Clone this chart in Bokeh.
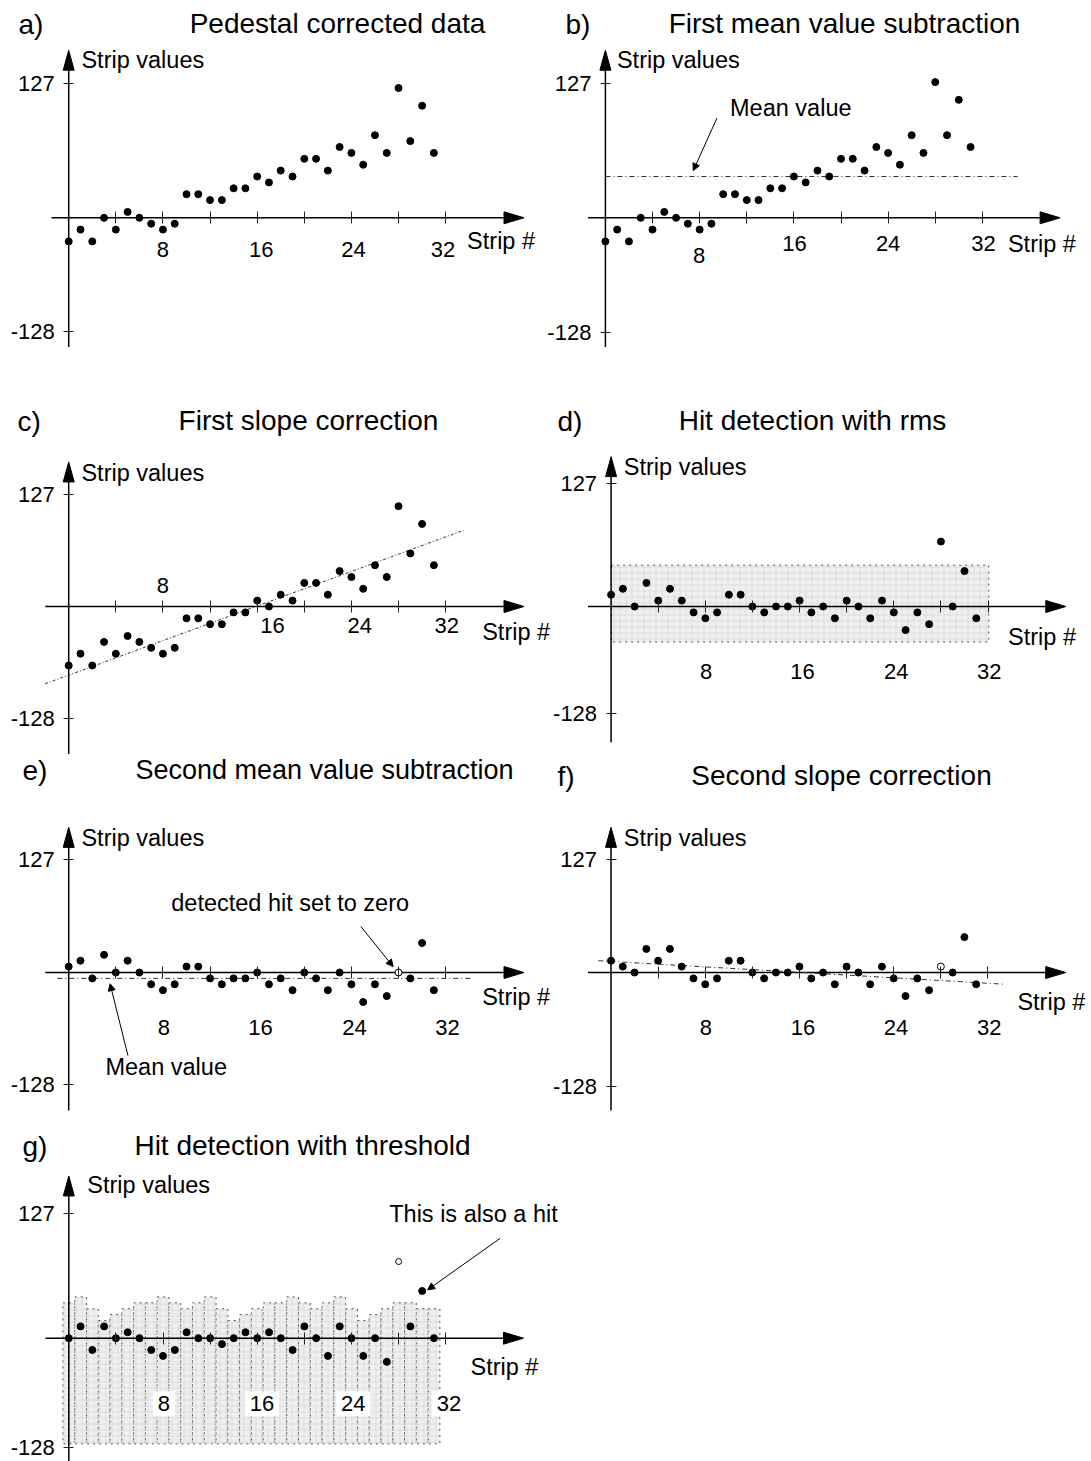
from bokeh.plotting import figure
from bokeh.layouts import column, row
from bokeh.models import FixedTicker, Arrow, NormalHead
from bokeh.embed import file_html
from bokeh.resources import INLINE
from bokeh.core.properties import value

FONT = "Liberation Sans"
DX = 11.78   # px per strip
DY = 5.9     # px per value step

# ---------------- data ----------------
strips = list(range(32))
a_values = [-4, -2, -4, 0, -2, 1, 0, -1, -2, -1, 4, 4, 3, 3, 5, 5,
            7, 6, 8, 7, 10, 10, 8, 12, 11, 9, 14, 11, 22, 13, 19, 11]
b_values = [-4, -2, -4, 0, -2, 1, 0, -1, -2, -1, 4, 4, 3, 3, 5, 5,
            7, 6, 8, 7, 10, 10, 8, 12, 11, 9, 14, 11, 23, 14, 20, 12]
b_mean = 7
b_mean_x = [0, 35.0]
c_values = [-10, -8, -10, -6, -8, -5, -6, -7, -8, -7, -2, -2, -3, -3, -1, -1,
            1, 0, 2, 1, 4, 4, 2, 6, 5, 3, 7, 5, 17, 9, 14, 7]
c_fit_x = [-2.0, 33.5]
c_fit_y = [-13.1, 12.9]
d_values = [2, 3, 0, 4, 1, 3, 1, -1, -2, -1, 2, 2, 0, -1, 0, 0,
            1, -1, 0, -2, 1, 0, -2, 1, -1, -4, -1, -3, 11, 0, 6, -2]
d_rms = (-6, 7)
d_rms_x = (0, 32.06)
e_values = [1, 2, -1, 3, 0, 2, 0, -2, -3, -2, 1, 1, -1, -2, -1, -1,
            0, -2, -1, -3, 0, -1, -3, 0, -2, -5, -2, -4, 0, -1, 5, -3]
e_mean = -1
e_mean_x = [-0.97, 34.1]
e_hit = 28
f_values = [2, 1, 0, 4, 2, 4, 1, -1, -2, -1, 2, 2, 0, -1, 0, 0,
            1, -1, 0, -2, 1, 0, -2, 1, -1, -4, -1, -3, 1, 0, 6, -2]
f_fit_x = [-1.07, 33.5]
f_fit_y = [2.0, -2.0]
f_hit = 28
g_values = [0, 2, -2, 2, 0, 1, 0, -2, -3, -2, 1, 0, 0, -1, 0, 1,
            0, 1, 0, -2, 2, 0, -3, 2, 0, -3, 0, -4, 13, 2, 8, 0]
g_threshold = [6, 7, 5, 3, 4, 5, 6, 6, 7, 6, 5, 6, 7, 5, 3, 4,
               5, 6, 6, 7, 6, 5, 6, 7, 5, 3, 4, 5, 6, 6, 5, 5]
g_bar_base = -17.9
g_hit = 28

x_ticks = [4, 8, 12, 16, 20, 24, 28, 32]
x_tick_labels = ["8", "16", "24", "32"]
y_tick_labels = ["127", "-128"]


def txt(p, x, y, s, size="23.5px", align="left", baseline="middle", **kw):
    return p.text(x=[x], y=[y], text=[s], text_font=value(FONT),
                  text_font_size=size, text_align=align,
                  text_baseline=baseline, text_color="black", **kw)


def panel(cfg):
    left, top, w, h = cfg["box"]
    ax, zy = cfg["origin"]
    xs = -(ax - left) / DX
    ye = (zy - top) / DY
    p = figure(width=w, height=h, x_range=(xs, xs + w / DX),
               y_range=(ye - h / DY, ye), output_backend="svg",
               toolbar_location=None, min_border=0)
    p.outline_line_color = None
    p.grid.visible = False
    p.background_fill_color = "white"
    p.border_fill_color = "white"

    def X(px):
        return (px - ax) / DX

    def Y(py):
        return (zy - py) / DY

    # axes (ticks and y labels through bokeh axes)
    xa = p.xaxis[0]
    xa.fixed_location = 0
    xa.ticker = FixedTicker(ticks=x_ticks)
    xa.major_label_overrides = {t: "" for t in x_ticks}
    xa.axis_line_color = None
    xa.major_tick_in = 6
    xa.major_tick_out = 6
    xa.major_tick_line_color = "#222"
    xa.minor_tick_line_color = None
    ya = p.yaxis[0]
    ya.fixed_location = 0
    ya.ticker = FixedTicker(ticks=cfg["yticks"])
    ya.major_label_overrides = dict(zip(cfg["yticks"], y_tick_labels))
    ya.axis_line_color = None
    ya.major_tick_in = 5
    ya.major_tick_out = 5
    ya.major_tick_line_color = "#222"
    ya.minor_tick_line_color = None
    ya.major_label_standoff = 9
    ya.major_label_text_font = FONT
    ya.major_label_text_font_size = "22px"
    ya.major_label_text_color = "black"

    if "pre" in cfg:
        cfg["pre"](p)

    # axis lines with arrow heads
    x0, x1 = cfg["xaxis"]
    y0, y1 = cfg["yaxis"]
    p.segment(x0=[x0], y0=[0], x1=[x1 - 10 / DX], y1=[0], line_color="black", line_width=1.5)
    p.patch([x1, x1 - 20 / DX, x1 - 20 / DX], [0, 6 / DY, -6 / DY], color="black")
    p.segment(x0=[0], y0=[y0], x1=[0], y1=[y1 - 10 / DY], line_color="black", line_width=1.5)
    p.patch([0, -5.5 / DX, 5.5 / DX], [y1, y1 - 20 / DY, y1 - 20 / DY], color="black")

    # titles
    lab, lab_x, title, t_x, t_y, t_size = cfg["title"]
    txt(p, X(lab_x), Y(t_y + 1), lab, size="28px", align="left")
    txt(p, X(t_x), Y(t_y), title, size=t_size, align="center")

    # axis labels
    sv = cfg["sv"]
    txt(p, sv[0], sv[1], "Strip values")
    sn = cfg["sn"]
    txt(p, sn[0], sn[1], "Strip #")
    tx, ty = cfg["ticklab"]
    if not isinstance(ty, list):
        ty = [ty] * 4
    kw = cfg.get("ticklab_kw", {})
    p.text(x=tx, y=ty, text=x_tick_labels, text_font=value(FONT), text_font_size="22px",
           text_align="center", text_baseline="middle", text_color="black", **kw)

    if "post" in cfg:
        cfg["post"](p)
    return p


def dots(p, vals, hit=None, hit_size=7):
    xs = [s for s in strips if s != hit]
    ys = [vals[s] for s in strips if s != hit]
    p.scatter(xs, ys, size=7, color="black")
    if hit is not None:
        p.scatter([hit], [vals[hit]], size=hit_size, fill_color="white",
                  line_color="black", line_width=1)


def arrow(p, xs, ys, xe, ye):
    p.add_layout(Arrow(end=NormalHead(size=7, fill_color="black", line_color="black", line_width=1),
                       x_start=xs, y_start=ys, x_end=xe, y_end=ye,
                       line_color="black", line_width=1))


# ---- panel a
def a_post(p):
    dots(p, a_values)


cfg_a = dict(box=(0, 0, 540, 395), origin=(68.2, 217.3), yticks=[22.8, -19.3],
             xaxis=(-1.46, 38.65), yaxis=(-21.9, 28.4),
             title=("a)", 18, "Pedestal corrected data", 337, 23, "28px"),
             sv=(1.08, 26.8), sn=(33.82, -4.0),
             ticklab=([8.0, 16.34, 24.17, 31.77], -5.42), post=a_post)


# ---- panel b
def b_post(p):
    p.line(b_mean_x, [b_mean, b_mean], line_color="#333", line_width=1, line_dash="5 3 1 3")
    dots(p, b_values)
    txt(p, 10.58, 18.6, "Mean value")
    arrow(p, 9.47, 16.9, 7.46, 8.0)


cfg_b = dict(box=(540, 0, 551, 395), origin=(604.9, 217.3), yticks=[22.8, -19.5],
             xaxis=(-1.48, 38.6), yaxis=(-21.9, 28.4),
             title=("b)", 565, "First mean value subtraction", 844, 23, "28px"),
             sv=(0.98, 26.8), sn=(34.17, -4.4),
             ticklab=([7.95, 16.05, 24.0, 32.1], [-6.4, -4.4, -4.4, -4.4]), post=b_post)


# ---- panel c
def c_post(p):
    p.line(c_fit_x, c_fit_y, line_color="#333", line_width=1, line_dash="3 2 1 2")
    dots(p, c_values)


cfg_c = dict(box=(0, 395, 550, 360), origin=(68.2, 606), yticks=[18.9, -18.9],
             xaxis=(-1.99, 38.65), yaxis=(-25.0, 24.5),
             title=("c)", 17, "First slope correction", 308, 420, "28px"),
             sv=(1.08, 22.6), sn=(35.1, -4.3),
             ticklab=([8.0, 17.3, 24.7, 32.1], [3.6, -3.2, -3.2, -3.2]), post=c_post)


# ---- panel d
def d_pre(p):
    p.quad(left=[d_rms_x[0]], right=[d_rms_x[1]], bottom=[d_rms[0]], top=[d_rms[1]],
           fill_color="#efefef", hatch_pattern="+", hatch_scale=6, hatch_color="#d2d2d2",
           hatch_weight=0.6, line_color="#555", line_dash="dotted", line_width=1)


def d_post(p):
    dots(p, d_values)


cfg_d = dict(box=(550, 395, 541, 360), origin=(610.6, 606), yticks=[20.9, -18.1],
             xaxis=(-1.96, 38.6), yaxis=(-23.0, 25.4),
             title=("d)", 557, "Hit detection with rms", 812, 420, "28px"),
             sv=(1.08, 23.7), sn=(33.7, -5.2),
             ticklab=([8.06, 16.25, 24.2, 32.1], -11.1), pre=d_pre, post=d_post)


# ---- panel e
def e_post(p):
    p.line(e_mean_x, [e_mean, e_mean], line_color="#333", line_width=1, line_dash="5 3 1 3")
    dots(p, e_values, hit=e_hit)
    txt(p, 18.8, 11.8, "detected hit set to zero", align="center")
    arrow(p, 24.8, 7.8, 27.54, 1.0)
    txt(p, 3.12, -16.1, "Mean value")
    arrow(p, 5.03, -14.1, 3.51, -1.9)


cfg_e = dict(box=(0, 755, 550, 365), origin=(68.2, 972), yticks=[19.1, -19.0],
             xaxis=(-1.99, 38.65), yaxis=(-23.4, 24.6),
             title=("e)", 22, "Second mean value subtraction", 324, 769, "27px"),
             sv=(1.08, 22.8), sn=(35.1, -4.2),
             ticklab=([8.07, 16.28, 24.26, 32.15], -9.3), post=e_post)


# ---- panel f
def f_post(p):
    p.line(f_fit_x, f_fit_y, line_color="#333", line_width=1, line_dash="5 3 1 3")
    dots(p, f_values, hit=f_hit)


cfg_f = dict(box=(550, 755, 541, 365), origin=(610.5, 972), yticks=[19.1, -19.4],
             xaxis=(-1.95, 38.6), yaxis=(-23.4, 24.6),
             title=("f)", 557, "Second slope correction", 841, 775, "28px"),
             sv=(1.09, 22.8), sn=(34.5, -5.0),
             ticklab=([8.06, 16.3, 24.2, 32.1], -9.3), post=f_post)


# ---- panel g
def g_pre(p):
    p.quad(left=[s - 0.5 for s in strips], right=[s + 0.5 for s in strips],
           bottom=[g_bar_base] * len(strips), top=g_threshold,
           fill_color="#efefef", hatch_pattern="+", hatch_scale=6, hatch_color="#d2d2d2",
           hatch_weight=0.6, line_color="#555", line_dash="dotted", line_width=1)


def g_post(p):
    dots(p, g_values, hit=g_hit, hit_size=6)
    txt(p, 27.2, 21.1, "This is also a hit")
    arrow(p, 36.6, 16.9, 30.46, 8.2)


cfg_g = dict(box=(0, 1120, 600, 341), origin=(68.3, 1337.7), yticks=[21.1, -18.6],
             xaxis=(-1.98, 38.6), yaxis=(-21.5, 27.5),
             title=("g)", 22, "Hit detection with threshold", 302, 1145, "28px"),
             sv=(1.57, 25.9), sn=(34.1, -4.9),
             ticklab=([8.07, 16.4, 24.15, 32.27], -11.1),
             ticklab_kw=dict(background_fill_color="white", padding=5),
             pre=g_pre, post=g_post)

pa, pb, pc, pd, pe, pf, pg = [panel(c) for c in (cfg_a, cfg_b, cfg_c, cfg_d, cfg_e, cfg_f, cfg_g)]

layout = column(row(pa, pb), row(pc, pd), row(pe, pf), row(pg))
open("out.html", "w").write(file_html(layout, INLINE))
